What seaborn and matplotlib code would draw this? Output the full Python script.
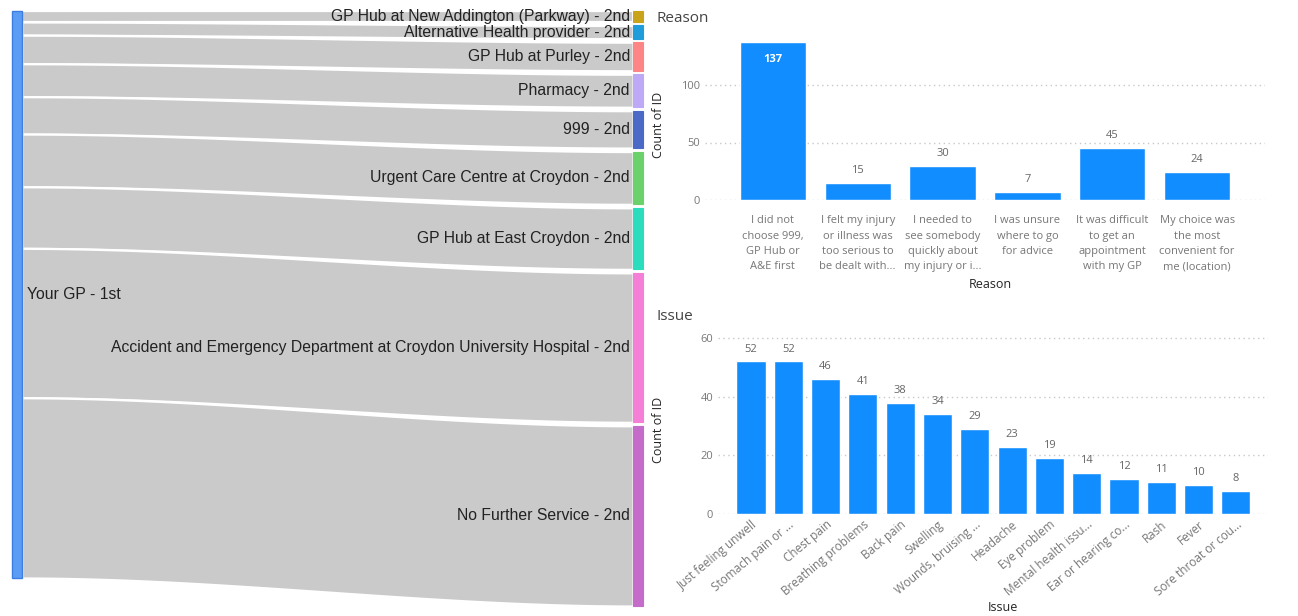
import numpy as np
import matplotlib
matplotlib.use("Agg")
import matplotlib.pyplot as plt
from matplotlib.patches import Rectangle
import seaborn as sns

# Sankey : premier recours -> second recours
source_label = "Your GP - 1st"
targets = [
    "GP Hub at New Addington (Parkway) - 2nd",
    "Alternative Health provider - 2nd",
    "GP Hub at Purley - 2nd",
    "Pharmacy - 2nd",
    "999 - 2nd",
    "Urgent Care Centre at Croydon - 2nd",
    "GP Hub at East Croydon - 2nd",
    "Accident and Emergency Department at Croydon University Hospital - 2nd",
    "No Further Service - 2nd",
]
target_counts = [5, 6, 13, 15, 17, 24, 28, 68, 82]
target_colors = ["#c9a41a", "#1f9ddb", "#fd8585", "#bea9f6", "#4b69c6",
                 "#6bd26b", "#2bdcbd", "#f57fd7", "#c56bc9"]

# Bar chart "Reason"
reason_labels = [
    "I did not\nchoose 999,\nGP Hub or\nA&E first",
    "I felt my injury\nor illness was\ntoo serious to\nbe dealt with...",
    "I needed to\nsee somebody\nquickly about\nmy injury or i...",
    "I was unsure\nwhere to go\nfor advice",
    "It was difficult\nto get an\nappointment\nwith my GP",
    "My choice was\nthe most\nconvenient for\nme (location)",
]
reason_counts = [137, 15, 30, 7, 45, 24]

# Bar chart "Issue"
issue_labels = ["Just feeling unwell", "Stomach pain or ...", "Chest pain",
                "Breathing problems", "Back pain", "Swelling",
                "Wounds, bruising ...", "Headache", "Eye problem",
                "Mental health issu...", "Ear or hearing co...", "Rash",
                "Fever", "Sore throat or cou..."]
issue_counts = [52, 52, 46, 41, 38, 34, 29, 23, 19, 14, 12, 11, 10, 8]

BLUE = "#118DFF"
GREY_TXT = "#777777"
DARK_TXT = "#252423"

sns.set_style("white")
plt.rcParams["font.family"] = ["Open Sans", "DejaVu Sans"]

W, H = 1298, 616
fig = plt.figure(figsize=(W / 100, H / 100), dpi=100)

# ---------- Sankey (dessiné à la main) ----------
ax_s = fig.add_axes([0, 0, 650 / W, 1])
ax_s.set_xlim(0, 650)
ax_s.set_ylim(H, 0)
ax_s.axis("off")

x0, x1 = 22, 633
top = 11
scale = 567 / sum(target_counts)
gap = 3.5
t = np.linspace(0, 1, 200)
s = t * t * (3 - 2 * t)
xs = x0 + (x1 - x0) * t
left_y, right_y = top, top
for name, n, col in zip(targets, target_counts, target_colors):
    h = n * scale
    upper = left_y + (right_y - left_y) * s
    ax_s.fill_between(xs, upper, upper + h, facecolor="#cacaca",
                      edgecolor="white", linewidth=1.6, zorder=1)
    ax_s.add_patch(Rectangle((x1, right_y), 10, h, facecolor=col,
                             edgecolor=col, linewidth=0.8, zorder=3))
    ax_s.text(x1 - 3, right_y + h / 2, name, ha="right", va="center",
              fontsize=11.3, color="#222222", family="Liberation Sans", zorder=4)
    left_y += h
    right_y += h + gap

ax_s.add_patch(Rectangle((12, top), 10, 567, facecolor="#5b9cf5",
                         edgecolor="#3c7fe0", linewidth=1, zorder=3))
ax_s.text(27, top + 567 / 2, source_label, ha="left", va="center",
          fontsize=11.3, color="#222222", family="Liberation Sans", zorder=4)


def style_bar_axes(ax, yticks):
    ax.set_yticks(yticks)
    ax.yaxis.grid(True, linestyle=(0, (1, 2.5)), color="#c8c8c8", linewidth=1)
    ax.set_axisbelow(True)
    sns.despine(ax=ax, left=True, bottom=True)
    ax.tick_params(length=0, colors=GREY_TXT, labelsize=8)


# ---------- Reason ----------
ax_r = fig.add_axes([705 / W, 1 - 200 / H, 560 / W, 145 * 1.15 / H])
sns.barplot(x=reason_labels, y=reason_counts, color=BLUE, saturation=1,
            width=0.78, ax=ax_r)
ax_r.set_ylim(0, 145)
ax_r.set_xlim(-0.8, 5.8)
style_bar_axes(ax_r, [0, 50, 100])
ax_r.tick_params(axis="x", pad=11)
for lab in ax_r.get_xticklabels():
    lab.set_linespacing(1.55)
for p, v in zip(ax_r.patches, reason_counts):
    cx = p.get_x() + p.get_width() / 2
    if v > 100:
        ax_r.annotate(str(v), (cx, v), xytext=(0, -8), textcoords="offset points",
                      ha="center", va="top", fontsize=8, color="white",
                      fontweight="bold")
    else:
        ax_r.annotate(str(v), (cx, v), xytext=(0, 5), textcoords="offset points",
                      ha="center", va="bottom", fontsize=8, color="#666666")
ax_r.set_ylabel("Count of ID", fontsize=9, color=DARK_TXT)
ax_r.yaxis.set_label_coords(-0.071, 0.45)
ax_r.set_xlabel("Reason", fontsize=9, color=DARK_TXT)
ax_r.xaxis.set_label_coords(0.51, -0.47)
fig.text(657 / W, 1 - 18 / H, "Reason", ha="left", va="center",
         fontsize=11, color="#444444")

# ---------- Issue ----------
ax_i = fig.add_axes([718 / W, 1 - 514 / H, 550 / W, 61 * 2.933 / H])
sns.barplot(x=issue_labels, y=issue_counts, color=BLUE, saturation=1,
            width=0.78, ax=ax_i)
ax_i.set_ylim(0, 61)
ax_i.set_xlim(-0.885, 13.86)
style_bar_axes(ax_i, [0, 20, 40, 60])
ax_i.tick_params(axis="x", pad=3, labelsize=8.5)
for lab in ax_i.get_xticklabels():
    lab.set_rotation(40)
    lab.set_ha("right")
    lab.set_rotation_mode("anchor")
for p, v in zip(ax_i.patches, issue_counts):
    cx = p.get_x() + p.get_width() / 2
    ax_i.annotate(str(v), (cx, v), xytext=(0, 5), textcoords="offset points",
                  ha="center", va="bottom", fontsize=8, color="#666666")
ax_i.set_ylabel("Count of ID", fontsize=9, color=DARK_TXT)
ax_i.yaxis.set_label_coords(-0.096, 0.47)
ax_i.set_xlabel("Issue", fontsize=9, color=DARK_TXT)
ax_i.xaxis.set_label_coords(0.518, -0.485)
fig.text(657 / W, 1 - 316 / H, "Issue", ha="left", va="center",
         fontsize=11, color="#444444")

fig.savefig("out.png", dpi=100)
